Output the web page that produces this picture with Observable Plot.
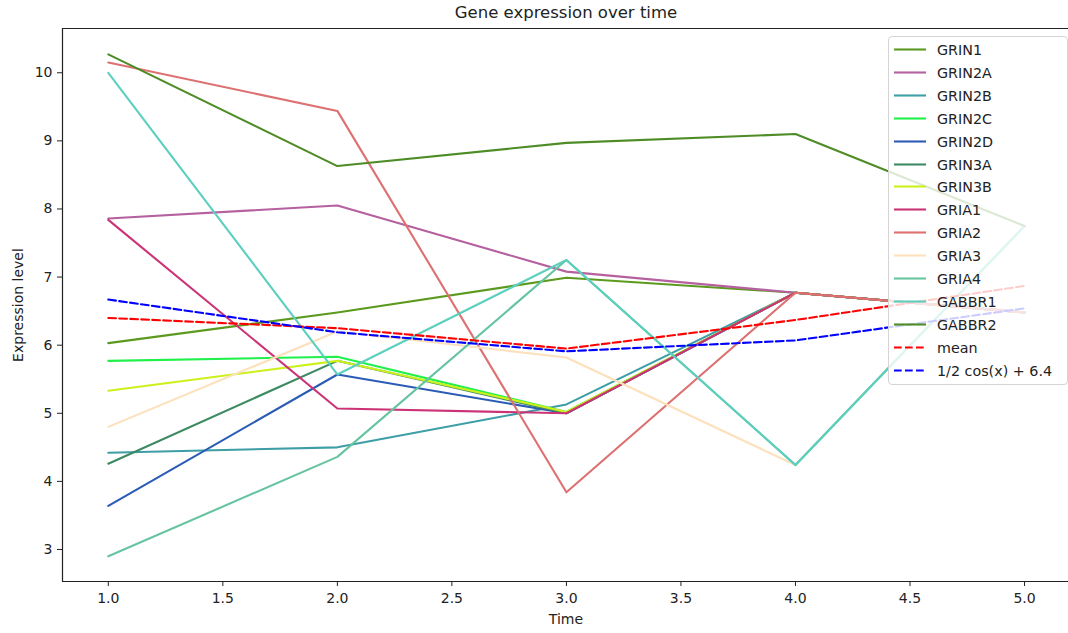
<!DOCTYPE html>
<html>
<head>
<meta charset="utf-8">
<script src="https://cdn.jsdelivr.net/npm/d3@7"></script>
<script src="https://cdn.jsdelivr.net/npm/@observablehq/plot@0.6"></script>
<style>
  body { margin: 0; background: #fff; font-family: "DejaVu Sans", sans-serif; }
  #wrap { position: relative; width: 1068px; height: 633px; overflow: hidden; }
  #chart { position: absolute; left: 0; top: 0; }
  #title { position: absolute; top: 3px; left: 62px; width: 1008px; text-align: center; font-size: 16.5px; color: #222; }
  #xlabel { position: absolute; top: 611px; left: 62px; width: 1008px; text-align: center; font-size: 14px; color: #222; }
  #ylabel { position: absolute; left: 18px; top: 305px; transform: translate(-50%, -50%) rotate(-90deg); font-size: 14px; white-space: nowrap; color: #222; }
  #legend { position: absolute; left: 888px; top: 36px; width: 180px; height: 349px; background: rgba(255,255,255,0.8); border: 1px solid #d4d4d4; border-radius: 4px; box-sizing: border-box; }
  .item { position: absolute; left: 0; height: 20px; width: 170px; }
  .item svg { position: absolute; left: 4px; top: 0; }
  .item span { position: absolute; left: 48px; top: 1px; font-size: 14.3px; color: #222; white-space: nowrap; line-height: 18px; }
</style>
</head>
<body>
<div id="wrap">
  <div id="chart"></div>
  <div id="title">Gene expression over time</div>
  <div id="xlabel">Time</div>
  <div id="ylabel">Expression level</div>
  <div id="legend"></div>
</div>
<script>
// ---- data ----
const time = [1, 2, 3, 4, 5];
const genes = ["GRIN1", "GRIN2A", "GRIN2B", "GRIN2C", "GRIN2D", "GRIN3A", "GRIN3B", "GRIA1", "GRIA2", "GRIA3", "GRIA4", "GABBR1", "GABBR2"];
const geneColors = ["#5c9a1f", "#b5609f", "#3e9ea6", "#1ff04a", "#2a5cb5", "#3d8a62", "#ccf01a", "#cc3377", "#dd7070", "#fde0bc", "#66c4a0", "#5ccfbf", "#4e8c26"];

const GRIN1  = [6.03, 6.48, 6.99, 6.77, 6.48];
const GRIN2A = [7.86, 8.05, 7.08, 6.77, 6.48];
const GRIN2B = [4.42, 4.50, 5.13, 6.77, 6.48];
const GRIN2C = [5.77, 5.83, 5.02, 6.77, 6.48];
const GRIN2D = [3.64, 5.57, 5.00, 6.77, 6.48];
const GRIN3A = [4.26, 5.77, 5.00, 6.77, 6.48];
const GRIN3B = [5.33, 5.77, 5.02, 6.77, 6.48];
const GRIA1  = [7.84, 5.07, 5.00, 6.77, 6.48];
const GRIA2  = [10.15, 9.44, 3.84, 6.77, 6.48];
const GRIA3  = [4.80, 6.20, 5.82, 4.24, 7.75];
const GRIA4  = [2.90, 4.36, 7.25, 4.24, 7.75];
const GABBR1 = [10.00, 5.57, 7.25, 4.24, 7.75];
const GABBR2 = [10.27, 8.63, 8.97, 9.10, 7.75];

const meanValues = [6.40, 6.25, 5.95, 6.37, 6.87];
const cosValues  = [6.67, 6.19, 5.91, 6.07, 6.54];

const xTicks = [1.0, 1.5, 2.0, 2.5, 3.0, 3.5, 4.0, 4.5, 5.0];
const yTicks = [3, 4, 5, 6, 7, 8, 9, 10];

// ---- build tables ----
const seriesValues = [GRIN1, GRIN2A, GRIN2B, GRIN2C, GRIN2D, GRIN3A, GRIN3B, GRIA1, GRIA2, GRIA3, GRIA4, GABBR1, GABBR2];
const rows = genes.flatMap((g, i) => time.map((t, j) => ({gene: g, time: t, value: seriesValues[i][j]})));
const meanRows = time.map((t, j) => ({time: t, value: meanValues[j]}));
const cosRows = time.map((t, j) => ({time: t, value: cosValues[j]}));

const xDomain = [0.8, 5.192];
const yDomain = [2.53, 10.65];
const dash = "7.7,3.3";

const chart = Plot.plot({
  width: 1068,
  height: 633,
  marginLeft: 62,
  marginRight: 0,
  marginTop: 28,
  marginBottom: 52,
  style: {fontFamily: "DejaVu Sans, sans-serif", fontSize: "14px", color: "#222", background: "transparent", overflow: "visible"},
  x: {domain: xDomain},
  y: {domain: yDomain},
  color: {domain: genes, range: geneColors},
  marks: [
    Plot.axisX({ticks: xTicks, tickFormat: d3.format(".1f"), tickSize: 5, tickPadding: 7, fontSize: 14, label: null}),
    Plot.axisY({ticks: yTicks, tickFormat: d3.format("d"), tickSize: 5, tickPadding: 5, fontSize: 14, label: null}),
    Plot.line(rows, {x: "time", y: "value", z: "gene", stroke: "gene", strokeWidth: 2.1}),
    Plot.line(meanRows, {x: "time", y: "value", stroke: "red", strokeWidth: 2.1, strokeDasharray: dash}),
    Plot.line(cosRows, {x: "time", y: "value", stroke: "blue", strokeWidth: 2.1, strokeDasharray: dash}),
    Plot.ruleX([xDomain[0]], {stroke: "#222", strokeWidth: 1.2}),
    Plot.ruleY([yDomain[0], yDomain[1]], {stroke: "#222", strokeWidth: 1.2})
  ]
});
document.getElementById("chart").appendChild(chart);

// ---- legend ----
const legendLabels = genes.concat(["mean", "1/2 cos(x) + 6.4"]);
const legendColors = geneColors.concat(["red", "blue"]);
const legendDash = genes.map(() => null).concat([dash, dash]);
const legend = document.getElementById("legend");
legendLabels.forEach((lab, i) => {
  const item = document.createElement("div");
  item.className = "item";
  item.style.top = (3 + i * 22.9) + "px";
  const ns = "http://www.w3.org/2000/svg";
  const svg = document.createElementNS(ns, "svg");
  svg.setAttribute("width", "34");
  svg.setAttribute("height", "20");
  const ln = document.createElementNS(ns, "line");
  ln.setAttribute("x1", "1"); ln.setAttribute("x2", "33");
  ln.setAttribute("y1", "9.5"); ln.setAttribute("y2", "9.5");
  ln.setAttribute("stroke", legendColors[i]);
  ln.setAttribute("stroke-width", "2.1");
  if (legendDash[i]) ln.setAttribute("stroke-dasharray", legendDash[i]);
  svg.appendChild(ln);
  const sp = document.createElement("span");
  sp.textContent = lab;
  item.appendChild(svg);
  item.appendChild(sp);
  legend.appendChild(item);
});
</script>
</body>
</html>
